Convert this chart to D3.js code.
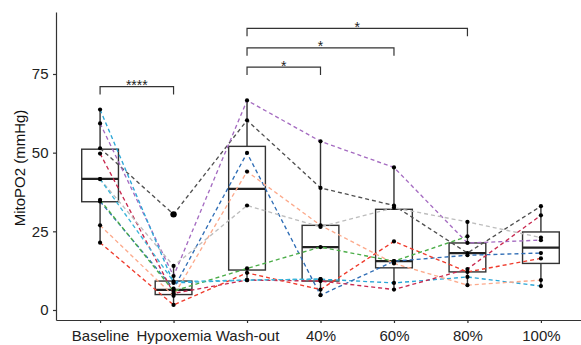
<!DOCTYPE html>
<html>
<head>
<meta charset="utf-8">
<script src="https://cdn.jsdelivr.net/npm/d3@7"></script>
<style>
  body { margin: 0; background: #fff; }
  text { font-family: "Liberation Sans", Arial, sans-serif; }
</style>
</head>
<body>
<div id="chart"></div>
<script>
// conditions on the x axis
const conditions = ["Baseline", "Hypoxemia", "Wash-out", "40%", "60%", "80%", "100%"];

// box statistics (one per condition)
const boxLow    = [21.4, 1.6,  9.5,  4.7,  6.5,  7.7,  7.4];
const boxQ1     = [34.4, 4.9,  12.7, 9.2,  13.4, 12.1, 14.8];
const boxMedian = [41.7, 6.4,  38.5, 20.0, 15.5, 18.1, 19.8];
const boxQ3     = [51.1, 9.2,  52.0, 26.9, 32.0, 21.3, 24.8];
const boxHigh   = [63.7, 14.0, 66.6, 53.6, 45.3, 28.0, 33.0];

// outliers
const outlierCond  = ["Hypoxemia"];
const outlierValue = [30.4];

// individual subjects (value per condition, null = missing)
const subj1  = [51.4, 30.4, 60.3, 38.8, 33.2, 18.1, 33.0];
const subj2  = [59.3, 10.8, 66.6, 53.6, 45.3, 21.3, 22.2];
const subj3  = [63.7, 8.6,  9.5,  9.8,  8.6,  10.5, 7.6];
const subj4  = [34.5, 6.8,  49.9, 4.7,  15.5, 17.4, 18.1];
const subj5  = [49.7, 5.3,  9.5,  9.2,  6.5,  13.0, 30.1];
const subj6  = [21.4, 1.6,  11.8, 6.5,  21.8, 12.1, 16.4];
const subj7  = [26.9, 4.5,  44.0, 26.9, 14.8, 7.9,  9.5];
const subj8  = [35.0, 6.0,  13.2, 20.0, 15.5, 23.4, null];
const subj9  = [41.6, 14.0, 33.2, 26.4, 32.5, 28.0, 23.0];
const subj10 = [41.6, 9.0,  9.5,  9.8,  null, null, null];
const subjects = [subj1, subj2, subj3, subj4, subj5, subj6, subj7, subj8, subj9, subj10];
const subjectColors = ["#505050", "#a56cc1", "#2ba6d6", "#2f6db5", "#c8294f",
                       "#ef3b2c", "#fcaa8c", "#4dae4a", "#bdbdbd", "#3cb6d9"];

// significance brackets
const compFrom  = ["Baseline", "Wash-out", "Wash-out", "Wash-out"];
const compTo    = ["Hypoxemia", "40%", "60%", "80%"];
const compLevel = [71.0, 77.2, 83.3, 89.5];
const compLabel = ["****", "*", "*", "*"];

const yTicks = [0, 25, 50, 75];

const width = 581, height = 345;

const svg = d3.select("#chart").append("svg")
    .attr("width", width).attr("height", height);

const x = d3.scalePoint().domain(conditions).range([56, 585]).padding(0.6);
const y = d3.scaleLinear().domain([-3.18, 94.7]).range([320, 12]);
const boxW = x.step() * 0.5;

// boxes
const boxes = svg.append("g").selectAll("g")
    .data(conditions)
    .enter().append("g");

boxes.append("line")
    .attr("x1", d => x(d)).attr("x2", d => x(d))
    .attr("y1", (d, i) => y(boxHigh[i])).attr("y2", (d, i) => y(boxQ3[i]))
    .attr("stroke", "#333").attr("stroke-width", 1.4);
boxes.append("line")
    .attr("x1", d => x(d)).attr("x2", d => x(d))
    .attr("y1", (d, i) => y(boxQ1[i])).attr("y2", (d, i) => y(boxLow[i]))
    .attr("stroke", "#333").attr("stroke-width", 1.4);
boxes.append("rect")
    .attr("x", d => x(d) - boxW / 2)
    .attr("width", boxW)
    .attr("y", (d, i) => y(boxQ3[i]))
    .attr("height", (d, i) => y(boxQ1[i]) - y(boxQ3[i]))
    .attr("fill", "none").attr("stroke", "#333").attr("stroke-width", 1.4);
boxes.append("line")
    .attr("x1", d => x(d) - boxW / 2).attr("x2", d => x(d) + boxW / 2)
    .attr("y1", (d, i) => y(boxMedian[i])).attr("y2", (d, i) => y(boxMedian[i]))
    .attr("stroke", "#222").attr("stroke-width", 2.3);

// dashed subject lines
const line = d3.line()
    .defined(d => d != null)
    .x((d, i) => x(conditions[i]))
    .y(d => y(d));

svg.append("g").selectAll("path")
    .data(subjects)
    .enter().append("path")
    .attr("d", d => line(d))
    .attr("fill", "none")
    .attr("stroke", (d, i) => subjectColors[i])
    .attr("stroke-width", 1.35)
    .attr("stroke-dasharray", "4,3");

// points
const pts = [];
subjects.forEach(s => s.forEach((v, i) => { if (v != null) pts.push([conditions[i], v]); }));

svg.append("g").selectAll("circle")
    .data(pts)
    .enter().append("circle")
    .attr("cx", d => x(d[0]))
    .attr("cy", d => y(d[1]))
    .attr("r", 2.1)
    .attr("fill", "#000");

svg.append("g").selectAll("circle")
    .data(outlierCond)
    .enter().append("circle")
    .attr("cx", d => x(d))
    .attr("cy", (d, i) => y(outlierValue[i]))
    .attr("r", 3.2)
    .attr("fill", "#000");

// significance brackets
const brackets = svg.append("g").selectAll("g")
    .data(compLabel)
    .enter().append("g");

brackets.append("path")
    .attr("d", (d, i) => {
        const x1 = x(compFrom[i]), x2 = x(compTo[i]), yy = y(compLevel[i]);
        return "M" + x1 + "," + (yy + 8) + "V" + yy + "H" + x2 + "V" + (yy + 8);
    })
    .attr("fill", "none").attr("stroke", "#333").attr("stroke-width", 1.2);

brackets.append("text")
    .attr("x", (d, i) => (x(compFrom[i]) + x(compTo[i])) / 2)
    .attr("y", (d, i) => y(compLevel[i]) + 3.5)
    .attr("text-anchor", "middle")
    .attr("font-size", 14)
    .attr("fill", "#222")
    .text(d => d);

// axes
const yAxis = svg.append("g")
    .attr("transform", "translate(56,0)")
    .call(d3.axisLeft(y).tickValues(yTicks).tickSize(3).tickSizeOuter(0).tickPadding(4.5));

const xAxis = svg.append("g")
    .attr("transform", "translate(0,320)")
    .call(d3.axisBottom(x).tickSize(3).tickSizeOuter(0).tickPadding(7));

[yAxis, xAxis].forEach(a => {
    a.select(".domain").attr("stroke", "#333").attr("stroke-width", 1.2);
    a.selectAll(".tick line").attr("stroke", "#333").attr("stroke-width", 1.2);
    a.selectAll(".tick text")
        .attr("font-size", 15)
        .attr("font-family", "Liberation Sans, Arial, sans-serif")
        .attr("fill", "#222");
});

// y axis title
svg.append("text")
    .attr("transform", "translate(20,168) rotate(-90)")
    .attr("text-anchor", "middle")
    .attr("dy", "0.35em")
    .attr("font-size", 15)
    .attr("fill", "#111")
    .text("MitoPO2 (mmHg)");
</script>
</body>
</html>
